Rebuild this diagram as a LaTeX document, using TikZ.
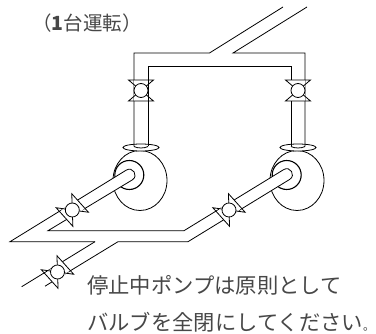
\documentclass[tikz,border=0pt]{standalone}
\usepackage{fontspec}
\setmainfont{Noto Sans CJK JP}
\begin{document}
\begin{tikzpicture}
  [x=1pt,y=-1pt,line width=.8pt,
   every node/.style={inner sep=0pt,anchor=west,text=black!72},
   valve/.pic={
     \fill [white] (-7,-10.5) rectangle (7,10.5);
     \draw (-12.5,-10.5) -- (12.5,-10.5) -- (-12.5,10.5) -- (12.5,10.5) -- cycle;
     \draw [fill=white] (0,0) circle (7);
   }]
  \useasboundingbox (0,0) rectangle (376,334);

  % pumps
  \foreach \px in {140,297} {
    \draw [fill=white] (\px,180.5) ellipse (27 and 30);
    \draw [fill=white] (\px+1,147.5) ellipse (18 and 3.5);
  }
  \draw [line width=1.1pt,fill=white] (129.3,175) circle (14.5);
  \draw [line width=1.1pt,fill=white] (286.7,175) circle (14.5);

  % upper pipe
  \draw (134,146.5) -- (134,53) -- (209.5,53) -- (283,7);
  \draw (307,7) -- (233,53) -- (305,53) -- (305,146.5);
  \draw (148,146.5) -- (148,66) -- (291,66) -- (291,146.5);
  \draw (134,146.5) .. controls (138,148.5) and (144,148.5) .. (148,146.5);
  \draw (291,146.5) .. controls (295,148.5) and (301,148.5) .. (305,146.5);

  % lower pipes
  \fill [white] (10,241.7) -- (126.3,170.1)
    .. controls (132.8,166.1) and (138.8,175.9) .. (132.3,179.9)
    -- (48,230.7) -- cycle;
  \fill [white] (184,230.7) -- (283.7,169.6)
    .. controls (290.2,165.6) and (296.2,175.4) .. (289.7,179.4)
    -- (188,241.7) -- cycle;
  \draw (95,241.7) -- (10,241.7) -- (126.3,170.1)
    .. controls (132.8,166.1) and (138.8,175.9) .. (132.3,179.9)
    -- (48,230.7) -- (184,230.7) -- (283.7,169.6)
    .. controls (290.2,165.6) and (296.2,175.4) .. (289.7,179.4)
    -- (188,241.7) -- (118,241.7) -- (45,286.2);
  \draw (95,241.7) -- (21.7,286.7);

  % valves
  \foreach \vx/\vy/\vrot in {141/90.5/0,298/90.5/0,72.3/210/-48,229/210/-48,57.5/272/-48}
    \pic [rotate=\vrot] at (\vx,\vy) {valve};

  \node [font=\fontsize{19.5}{22}\selectfont] (title) at (32,23) {（{\bfseries 1}台運転）};
  \node [font=\fontsize{21.3}{24}\selectfont] (note1) at (87,285) {停止中ポンプは原則として};
  \node [font=\fontsize{21.3}{24}\selectfont] (note2) at (87,322) {バルブを全閉にしてください{\fontsize{11.8}{24}\selectfont 。}};
\end{tikzpicture}
\end{document}
